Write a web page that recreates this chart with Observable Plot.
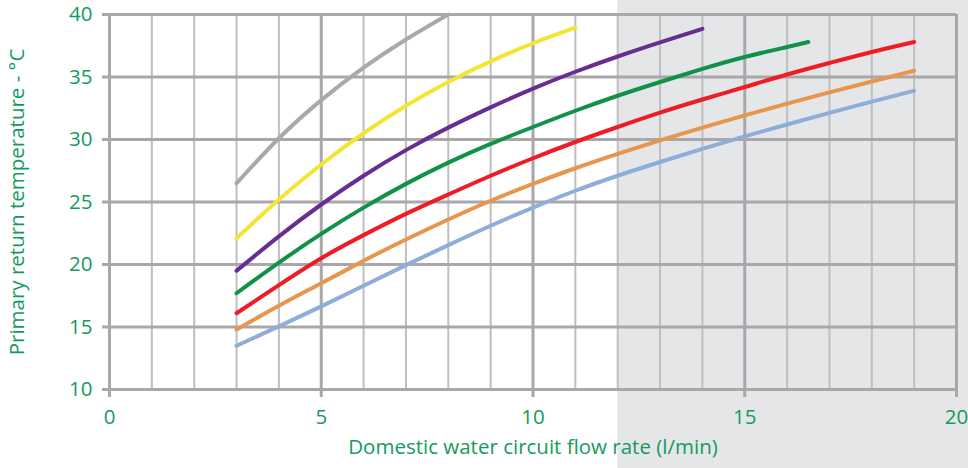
<!DOCTYPE html>
<html><head><meta charset="utf-8">
<script src="https://cdn.jsdelivr.net/npm/d3@7"></script>
<script src="https://cdn.jsdelivr.net/npm/@observablehq/plot@0.6"></script>
<style>
html,body{margin:0;padding:0;background:#fff;}
#chart svg{display:block;}
</style></head><body><div id="chart"></div>
<script>
// ---- data ----
const xTicks = [0, 5, 10, 15, 20];
const xMinor = d3.range(0, 21, 1);
const yTicks = [10, 15, 20, 25, 30, 35, 40];
const shadeStart = 12; // shaded flow-rate zone from 12 l/min

const flowGray   = [3, 4, 5, 6, 7, 8];
const tempGray   = [26.5, 30.1, 33.15, 35.75, 38.0, 40.0];
const flowYellow = [3, 4, 5, 6, 7, 8, 9, 10, 11];
const tempYellow = [22.1, 25.2, 28.0, 30.5, 32.7, 34.6, 36.25, 37.7, 38.95];
const flowPurple = [3, 4, 5, 6, 7, 8, 9, 10, 11, 12, 13, 14];
const tempPurple = [19.5, 22.25, 24.8, 27.1, 29.15, 30.95, 32.57, 34.07, 35.42, 36.64, 37.77, 38.85];
const flowGreen  = [3, 4, 5, 6, 7, 8, 9, 10, 11, 12, 13, 14, 15, 16, 16.5];
const tempGreen  = [17.7, 20.15, 22.45, 24.55, 26.45, 28.15, 29.65, 31.0, 32.3, 33.5, 34.6, 35.65, 36.6, 37.4, 37.8];
const flowLong   = [3, 4, 5, 6, 7, 8, 9, 10, 11, 12, 13, 14, 15, 16, 17, 18, 19];
const tempRed    = [16.1, 18.35, 20.5, 22.35, 24.05, 25.6, 27.1, 28.5, 29.8, 31.0, 32.15, 33.2, 34.2, 35.2, 36.12, 37.0, 37.8];
const tempOrange = [14.8, 16.7, 18.5, 20.3, 22.0, 23.6, 25.1, 26.45, 27.7, 28.85, 29.93, 30.95, 31.93, 32.87, 33.77, 34.64, 35.5];
const tempBlue   = [13.5, 15.05, 16.65, 18.3, 19.95, 21.55, 23.1, 24.55, 25.9, 27.1, 28.2, 29.25, 30.25, 31.2, 32.13, 33.03, 33.9];

const series = [
  {name: "gray",   color: "#a9a9a9", flow: flowGray,   temp: tempGray},
  {name: "yellow", color: "#f2e633", flow: flowYellow, temp: tempYellow},
  {name: "purple", color: "#672d91", flow: flowPurple, temp: tempPurple},
  {name: "green",  color: "#12914a", flow: flowGreen,  temp: tempGreen},
  {name: "red",    color: "#ee1c25", flow: flowLong,   temp: tempRed},
  {name: "orange", color: "#e8954e", flow: flowLong,   temp: tempOrange},
  {name: "blue",   color: "#8fadd9", flow: flowLong,   temp: tempBlue}
];
const rows = series.flatMap(s => s.flow.map((f, i) => ({name: s.name, color: s.color, flow: f, temp: s.temp[i]})));

const green = "#159a5e";
const gridCol = "#a8a8aa";
const yMin = d3.min(yTicks), yMax = d3.max(yTicks);
const xMin = d3.min(xTicks), xMax = d3.max(xTicks);

const plot = Plot.plot({
  width: 968, height: 468,
  marginLeft: 109, marginRight: 12, marginTop: 14, marginBottom: 79,
  style: {fontFamily: "'Open Sans', 'Noto Sans', sans-serif", fontSize: "20px", background: "transparent", overflow: "visible"},
  x: {domain: [xMin, xMax]},
  y: {domain: [yMin, yMax]},
  marks: [
    Plot.ruleX(xMinor.filter(d => !xTicks.includes(d)), {y1: yMin, y2: yMax, stroke: "#bfbfc1", strokeWidth: 2}),
    Plot.ruleX(xTicks, {y1: yMin, y2: yMax, stroke: gridCol, strokeWidth: 3}),
    Plot.ruleY(yTicks, {x1: xMin, x2: xMax, stroke: gridCol, strokeWidth: 3}),
    Plot.axisX(xTicks, {tickSize: 8, tickPadding: 12, stroke: gridCol, strokeWidth: 3, fill: green, fontSize: 20.5,
      label: "Domestic water circuit flow rate (l/min)", labelAnchor: "center", labelOffset: 64, labelArrow: "none"}),
    Plot.axisY(yTicks, {tickSize: 7, tickPadding: 10, stroke: gridCol, strokeWidth: 3, fill: green, fontSize: 20.5,
      label: "Primary return temperature - °C", labelAnchor: "center", labelOffset: 100, labelArrow: "none"}),
    Plot.line(rows, {x: "flow", y: "temp", z: "name", stroke: "color", strokeWidth: 4, curve: "natural"})
  ]
});

// shaded zone from shadeStart to the right edge, full height, behind everything
const sx = plot.scale("x").apply(shadeStart);
d3.select(plot).insert("rect", ":first-child")
  .attr("x", sx).attr("y", 0)
  .attr("width", 968 - sx).attr("height", 468)
  .attr("fill", "#e5e6e8");

document.getElementById("chart").appendChild(plot);
</script>
</body></html>
